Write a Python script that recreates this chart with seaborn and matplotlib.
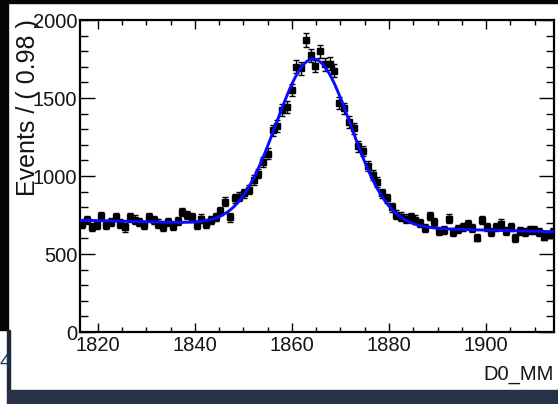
import numpy as np
import matplotlib
matplotlib.use("Agg")
import matplotlib.pyplot as plt
import seaborn as sns
from matplotlib.patches import Rectangle
from matplotlib.ticker import MultipleLocator

# histogram of D0_MM, 100 bins of 0.98
bin_lo = 1816.35
bin_width = 0.98
counts = [
    690, 716, 673, 684, 742, 684, 705, 738, 695, 670,
    734, 721, 705, 684, 738, 716, 695, 673, 705, 678,
    712, 770, 749, 734, 684, 727, 695, 716, 738, 776,
    834, 734, 856, 866, 888, 913, 975, 1016, 1090, 1144,
    1294, 1320, 1422, 1445, 1550, 1700, 1690, 1871, 1775, 1705,
    1800, 1715, 1720, 1675, 1470, 1433, 1347, 1305, 1190, 1160,
    1062, 1005, 960, 888, 856, 800, 752, 740, 727, 735,
    720, 700, 664, 745, 705, 645, 655, 727, 640, 663,
    672, 692, 668, 605, 716, 673, 641, 672, 695, 645,
    673, 604, 650, 641, 652, 655, 640, 612, 625, 640,
]

# fit result: gaussian + linear background
fit_mean = 1864.45
fit_sigma = 7.7
fit_amp = 1070.0
bkg_ref_x = 1817.0
bkg_ref_y = 716.0
bkg_slope = -0.756

x_range = (1816.35, 1914.0)
y_range = (0, 2000)
x_ticks = [1820, 1840, 1860, 1880, 1900]
y_ticks = [0, 500, 1000, 1500, 2000]

sns.set_style("ticks")
plt.rcParams['font.family'] = ['Liberation Sans', 'DejaVu Sans']

W, H = 558, 404
fig = plt.figure(figsize=(W / 100, H / 100), dpi=100)
fig.patch.set_facecolor('white')

# screenshot frame bits
fig.patches.append(Rectangle((0, 1 - 3 / H), 1, 3 / H, transform=fig.transFigure, color='#050505', zorder=0))
fig.patches.append(Rectangle((0, 1 - 330 / H), 8 / W, 330 / H, transform=fig.transFigure, color='#050505', zorder=0))
fig.patches.append(Rectangle((7 / W, 14 / H), 3 / W, 60 / H, transform=fig.transFigure, color='#1f283a', zorder=0))
fig.patches.append(Rectangle((7 / W, 0), 1, 14 / H, transform=fig.transFigure, color='#283246', zorder=0))
fig.text(-1 / W, 1 - 367 / H, '4', fontsize=14, color='#1d3560', ha='left', va='baseline')

ax = fig.add_axes([80 / W, 1 - 332 / H, 474 / W, 312 / H])

centers = bin_lo + bin_width * (np.arange(len(counts)) + 0.5)
counts_arr = np.array(counts, dtype=float)
ax.errorbar(centers, counts_arr, yerr=np.sqrt(counts_arr), fmt='s', ms=3.9,
            color='black', ecolor='black', elinewidth=1.0, capsize=2.0,
            capthick=1.0, zorder=3)

xf = np.linspace(x_range[0], x_range[1], 600)
yf = (bkg_ref_y + bkg_slope * (xf - bkg_ref_x)
      + fit_amp * np.exp(-0.5 * ((xf - fit_mean) / fit_sigma) ** 2))
sns.lineplot(x=xf, y=yf, ax=ax, color='#0a0aff', linewidth=2.1, zorder=4)

ax.set_xlim(*x_range)
ax.set_ylim(*y_range)
ax.set_xticks(x_ticks)
ax.set_yticks(y_ticks)
ax.xaxis.set_minor_locator(MultipleLocator(5))
ax.yaxis.set_minor_locator(MultipleLocator(100))

ax.tick_params(which='both', direction='in', top=True, right=True,
               width=1.0, color='black', labelsize=14.5, labelcolor='#151515')
ax.tick_params(axis='x', which='major', length=6.5, pad=3.0)
ax.tick_params(axis='x', which='minor', length=3.5)
ax.tick_params(axis='y', which='major', length=10.5, pad=2.0)
ax.tick_params(axis='y', which='minor', length=5.5)
for s in ax.spines.values():
    s.set_linewidth(1.6)
    s.set_color('black')

# ROOT-style title: top end aligned with the frame, overlaps the tick labels as in the original
fig.text(28 / W, 1 - 19 / H, 'Events / ( 0.98 )', rotation=90, fontsize=18,
         color='#151515', ha='center', va='top')
fig.text(554 / W, 1 - 380 / H, 'D0_MM', fontsize=14.5, color='#151515',
         ha='right', va='baseline')

fig.savefig('out.png', dpi=100)
